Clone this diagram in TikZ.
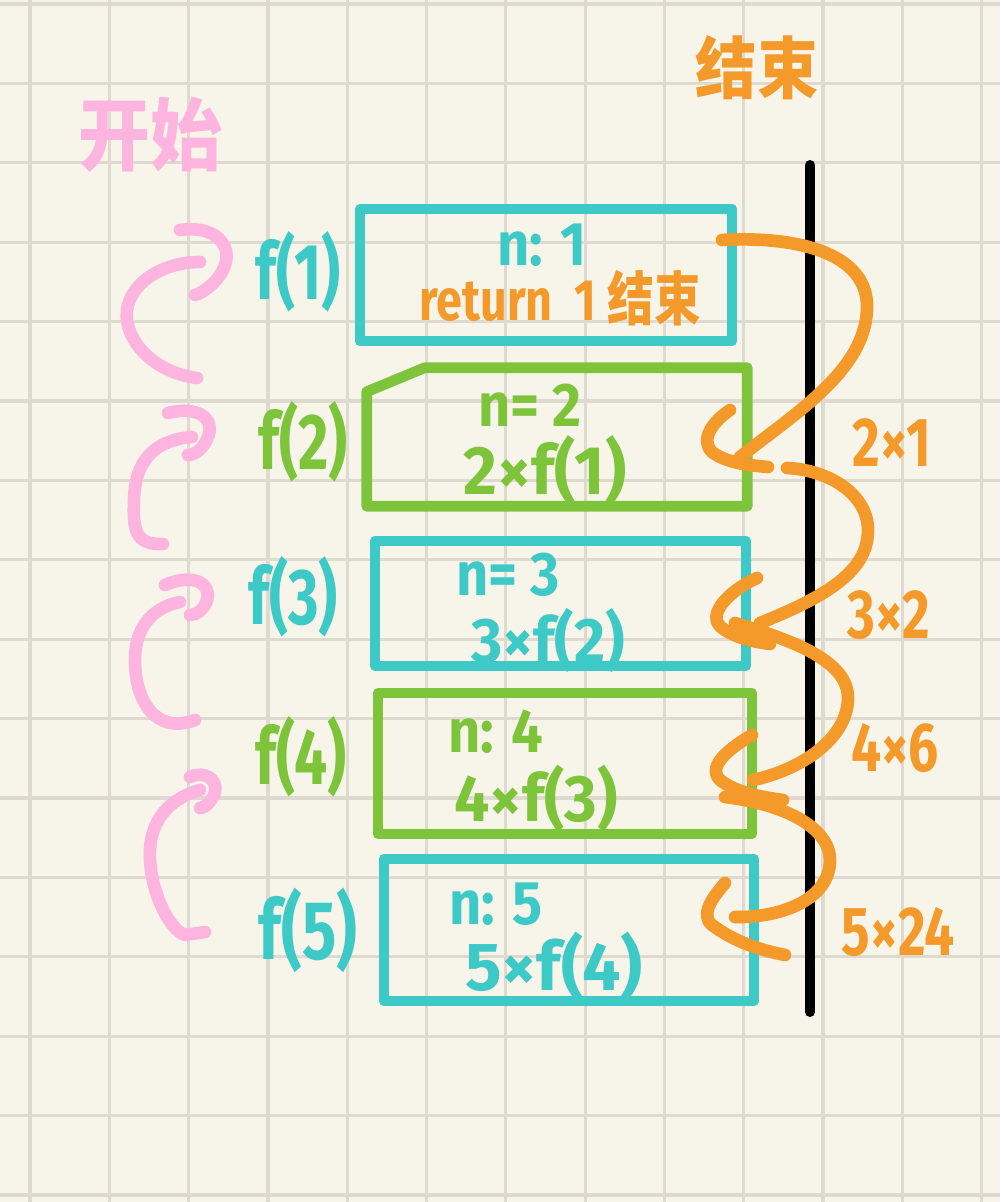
\documentclass[tikz,border=0pt]{standalone}
\usepackage{fontspec}
\setmainfont{Fira Sans}
\newfontfamily\cjk{Noto Sans CJK SC}
\definecolor{paper}{HTML}{F7F5EA}
\definecolor{gridc}{HTML}{DEDAD0}
\definecolor{cteal}{HTML}{3DCAC6}
\definecolor{cgreen}{HTML}{7DC43B}
\definecolor{corange}{HTML}{F49A2B}
\definecolor{cpink}{HTML}{FDB5E0}
\begin{document}
\begin{tikzpicture}[x=0.75pt,y=-0.75pt,
  gridline/.style={gridc,line width=2.4pt},
  framebox/.style={rectangle,draw,line width=8pt,line join=round,inner sep=0pt},
  hw/.style={inner sep=0pt,font=\bfseries\fontsize{#1}{#1}\selectfont},
  hw/.default=42,
  pinkarrow/.style={cpink,line width=9.5pt,line cap=round,line join=round},
  orangearrow/.style={corange,line width=9.5pt,line cap=round,line join=round},
  blackline/.style={black,line width=7.5pt,line cap=round}]
\fill[paper] (0,0) rectangle (1000,1202);
\useasboundingbox (0,0) rectangle (1000,1202);
% grid
\foreach \i in {0,...,12} \draw[gridline] ({30+79.3*\i},0) -- ({30+79.3*\i},1202);
\foreach \j in {0,...,15} \draw[gridline] (0,{4+79.4*\j}) -- (1000,{4+79.4*\j});

% titles
\node[hw=54,text=cpink,yscale=1.1] (start) at (150,135) {\cjk\bfseries 开始};
\node[hw=46,text=corange,yscale=1.1] (finish) at (757,68) {\cjk\bfseries 结束};

% boxes
\node[framebox,draw=cteal,minimum width=279pt,minimum height=99pt] (b1) at (546,275) {};
\node[rectangle,inner sep=0pt,minimum width=285pt,minimum height=103.5pt] (b2) at (557,437) {};
\draw[cgreen,line width=8pt,line join=round,line cap=round]
  ([shift={(0,24)}]b2.north west) -- ([shift={(58,0)}]b2.north west) -- (b2.north east)
  -- (b2.south east) -- (b2.south west) -- cycle;
\node[framebox,draw=cteal,minimum width=278.25pt,minimum height=93.75pt] (b3) at (560.5,603.5) {};
\node[framebox,draw=cgreen,minimum width=280.5pt,minimum height=105.75pt] (b4) at (565,763.5) {};
\node[framebox,draw=cteal,minimum width=277.5pt,minimum height=106.5pt] (b5) at (569,930) {};

% left labels
\node[hw=44,text=cteal,yscale=1.35] (f1) at (298,272) {f(1)};
\node[hw=44,text=cgreen,yscale=1.35] (f2) at (303,442) {f(2)};
\node[hw=44,text=cteal,yscale=1.35] (f3) at (293,597) {f(3)};
\node[hw=44,text=cgreen,yscale=1.35] (f4) at (301,757) {f(4)};
\node[hw=48,text=cteal,yscale=1.3] (f5) at (308,930) {f(5)};

% box contents
\node[hw=42,text=cteal,yscale=1.1] (n1) at (542,245) {n: 1};
\node[hw=35,text=corange,yscale=1.25] (r1) at (560,298) {return \ 1 {\cjk\bfseries 结束}};
\node[hw=42,text=cgreen,yscale=1.1] (n2) at (530,405) {n= 2};
\node[hw=49,text=cgreen,yscale=1.05] (e2) at (545,470) {2×f(1)};
\node[hw=42,text=cteal,yscale=1.1] (n3) at (508,575) {n= 3};
\node[hw=45,text=cteal,yscale=1.05] (e3) at (548,640) {3×f(2)};
\node[hw=42,text=cgreen,yscale=1.1] (n4) at (496,732) {n: 4};
\node[hw=47,text=cgreen,yscale=1.05] (e4) at (536,798) {4×f(3)};
\node[hw=42,text=cteal,yscale=1.1] (n5) at (496,904) {n: 5};
\node[hw=51,text=cteal,yscale=1.0] (e5) at (554,967) {5×f(4)};

% right labels
\node[hw=40,text=corange,yscale=1.3] (v2) at (892,443) {2×1};
\node[hw=40,text=corange,yscale=1.3] (v3) at (889,615) {3×2};
\node[hw=40,text=corange,yscale=1.3] (v4) at (895,748) {4×6};
\node[hw=40,text=corange,yscale=1.3] (v5) at (898,932) {5×24};

% black line
\coordinate (ltop) at (810,165);
\coordinate (lbot) at (810,1012);
\draw[blackline] (ltop) -- (lbot);

% pink arrows (start)
\draw[pinkarrow] (197,378) .. controls (150,372) and (120,335) .. (128,305)
  .. controls (135,280) and (165,262) .. (200,262);
\draw[pinkarrow] (180,230) .. controls (215,225) and (232,245) .. (225,265)
  .. controls (220,280) and (205,292) .. (195,295);
\draw[pinkarrow] (192,437) .. controls (155,440) and (135,460) .. (134,500)
  .. controls (133,530) and (135,545) .. (163,544);
\draw[pinkarrow] (168,413) .. controls (200,405) and (215,420) .. (208,437)
  .. controls (204,448) and (195,455) .. (188,455);
\draw[pinkarrow] (180,602) .. controls (150,608) and (135,630) .. (135,660)
  .. controls (135,700) and (155,735) .. (195,720);
\draw[pinkarrow] (165,585) .. controls (195,572) and (212,585) .. (207,600)
  .. controls (204,610) and (196,615) .. (190,615);
\draw[pinkarrow] (200,790) .. controls (165,800) and (148,825) .. (150,860)
  .. controls (152,895) and (170,930) .. (185,935) -- (205,932);
\draw[pinkarrow] (190,777) .. controls (205,770) and (218,780) .. (215,792)
  .. controls (213,800) and (205,808) .. (200,808);

% orange return arrows
\coordinate (o1s) at (722,240); \coordinate (o1e) at (740,457);
\coordinate (o2s) at (787,468); \coordinate (o2e) at (760,623);
\coordinate (o3s) at (735,623); \coordinate (o3e) at (753,780);
\coordinate (o4s) at (725,797); \coordinate (o4e) at (735,917);
\draw[orangearrow] (o1s) .. controls (790,236) and (870,250) .. (867,310)
  .. controls (864,370) and (800,410) .. (o1e);
\draw[orangearrow] (730,410) .. controls (712,422) and (700,440) .. (712,452)
  .. controls (725,462) and (745,465) .. (768,467);
\draw[orangearrow] (o2s) .. controls (830,470) and (868,495) .. (868,530)
  .. controls (868,570) and (830,595) .. (o2e);
\draw[orangearrow] (757,578) .. controls (730,590) and (705,615) .. (722,628)
  .. controls (735,638) and (755,642) .. (770,644);
\draw[orangearrow] (o3s) .. controls (790,640) and (850,660) .. (848,700)
  .. controls (846,740) and (800,770) .. (o3e);
\draw[orangearrow] (752,735) .. controls (735,745) and (705,765) .. (720,780)
  .. controls (735,792) and (760,797) .. (783,800);
\draw[orangearrow] (o4s) .. controls (790,805) and (830,830) .. (830,860)
  .. controls (830,900) and (780,918) .. (o4e);
\draw[orangearrow] (725,883) .. controls (712,898) and (700,915) .. (712,925)
  .. controls (735,942) and (760,950) .. (785,955);
\end{tikzpicture}
\end{document}
